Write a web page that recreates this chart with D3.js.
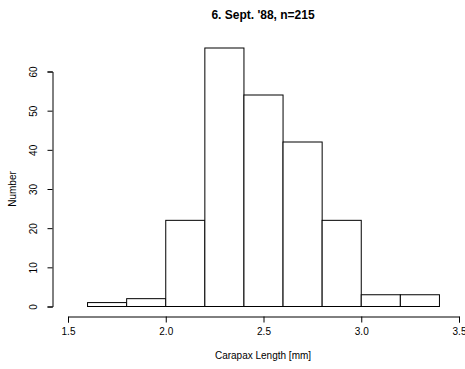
<!DOCTYPE html>
<html><head><meta charset="utf-8">
<script src="https://cdn.jsdelivr.net/npm/d3@7"></script>
<style>body{margin:0;background:#fff}svg{display:block;font-family:"Liberation Sans",Arial,sans-serif}</style>
</head><body>
<script>
const binStarts = [1.6, 1.8, 2.0, 2.2, 2.4, 2.6, 2.8, 3.0, 3.2];
const binWidth = 0.2;
const counts = [1, 2, 22, 66, 54, 42, 22, 3, 3];
const xTicks = [1.5, 2.0, 2.5, 3.0, 3.5];
const yTicks = [0, 10, 20, 30, 40, 50, 60];
const title = "6. Sept. '88, n=215";
const xLabel = "Carapax Length [mm]";
const yLabel = "Number";

const W = 465, H = 369;
const svg = d3.select("body").append("svg").attr("width", W).attr("height", H);
const x = d3.scaleLinear().domain([1.5, 3.5]).range([68, 459]);
const y = d3.scaleLinear().domain([0, 60]).range([306.5, 71.5]);

svg.append("g").selectAll("rect").data(counts).join("rect")
  .attr("x", (d, i) => x(binStarts[i]))
  .attr("width", (d, i) => x(binStarts[i] + binWidth) - x(binStarts[i]))
  .attr("y", d => y(d))
  .attr("height", d => y(0) - y(d))
  .attr("fill", "#fff").attr("stroke", "#000").attr("stroke-width", 1);

const xAxis = svg.append("g").attr("transform", "translate(0,316.5)")
  .call(d3.axisBottom(x).tickValues(xTicks).tickFormat(d3.format(".1f")).tickSizeOuter(0).tickSize(6).tickPadding(5));
xAxis.selectAll("text").attr("font-size", 10).attr("fill", "#000").attr("font-family", "Liberation Sans, Arial, sans-serif");
xAxis.select(".domain").attr("stroke", "#000");

const yAxis = svg.append("g").attr("transform", "translate(52.5,0)")
  .call(d3.axisLeft(y).tickValues(yTicks).tickSizeOuter(0).tickSize(5));
yAxis.select(".domain").attr("stroke", "#000");
yAxis.selectAll(".tick text")
  .attr("x", 0).attr("dy", 0)
  .attr("transform", "translate(-19,0) rotate(-90)")
  .attr("text-anchor", "middle").attr("dominant-baseline", "central")
  .attr("font-size", 10).attr("fill", "#000").attr("font-family", "Liberation Sans, Arial, sans-serif");

svg.append("text").attr("x", 263).attr("y", 19).attr("text-anchor", "middle")
  .attr("font-size", 12).attr("font-weight", "bold").text(title);
svg.append("text").attr("x", 263).attr("y", 359).attr("text-anchor", "middle")
  .attr("font-size", 10).text(xLabel);
svg.append("text").attr("transform", "translate(16,189) rotate(-90)").attr("text-anchor", "middle")
  .attr("font-size", 10).text(yLabel);
</script>
</body></html>
